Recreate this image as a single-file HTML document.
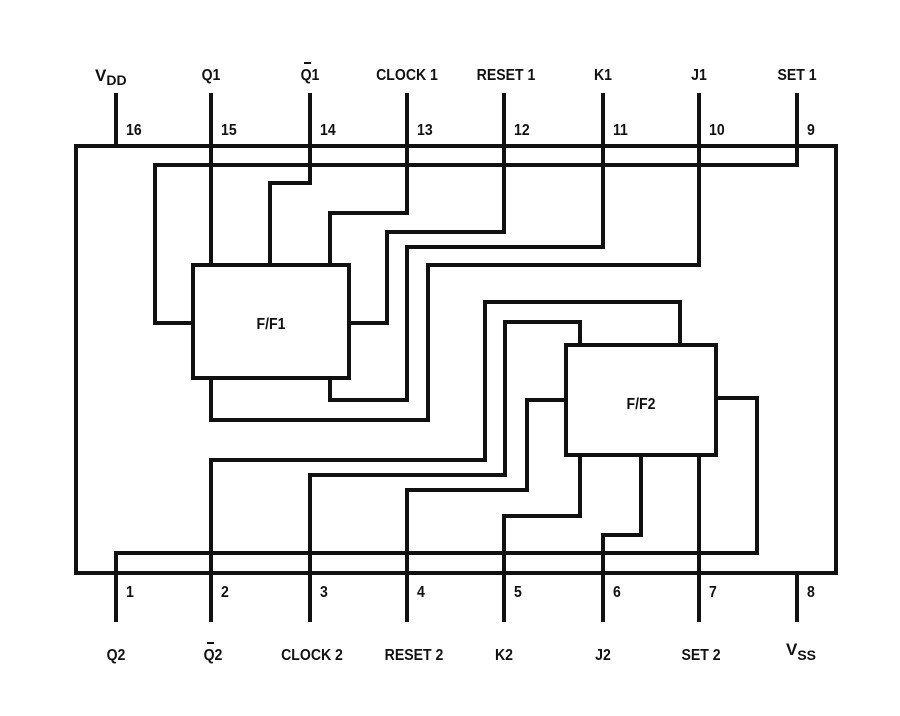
<!DOCTYPE html>
<html><head><style>
body{margin:0;background:#fff;}
svg text{font-family:"Liberation Sans",sans-serif;font-weight:bold;font-size:16px;fill:#111;}
</style></head><body>
<svg width="900" height="711" viewBox="0 0 900 711" xmlns="http://www.w3.org/2000/svg">
<g fill="none" stroke="#111" stroke-width="4" stroke-linecap="square" stroke-linejoin="miter">
<rect x="76" y="146" width="760" height="427"/>
<path d="M116 95V146M211 95V146M310 95V146M407 95V146M504 95V146M603 95V146M699 95V146M797 95V146"/>
<path d="M116 573V620M211 573V620M310 573V620M407 573V620M504 573V620M603 573V620M699 573V620M797 573V620"/>
<rect x="193" y="265" width="156" height="113"/>
<rect x="566" y="345" width="150" height="110"/>
<path d="M797 146V165H155V323H193"/>
<path d="M211 146V265"/>
<path d="M310 146V183H270V265"/>
<path d="M407 146V213H330V265"/>
<path d="M504 146V232H387V323H349"/>
<path d="M603 146V247H407V400H330V378"/>
<path d="M699 146V265H428V420H211V378"/>
<path d="M680 345V302H485V460H211V573"/>
<path d="M580 345V322H505V475H310V573"/>
<path d="M566 400H527V490H407V573"/>
<path d="M580 455V516H504V573"/>
<path d="M641 455V535H603V573"/>
<path d="M699 455V573"/>
<path d="M716 398H757V553H116V573"/>
</g>
<g transform="translate(0,0)">
<text x="95" y="81" style="font-size:17px">V<tspan dy="4" font-size="14">DD</tspan></text>
</g>
<g font-size="16">
<text transform="translate(211,80) scale(0.88,1)" text-anchor="middle">Q1</text>
<text transform="translate(310,80) scale(0.88,1)" text-anchor="middle">Q1</text>
<text transform="translate(407,80) scale(0.88,1)" text-anchor="middle">CLOCK 1</text>
<text transform="translate(506,80) scale(0.88,1)" text-anchor="middle">RESET 1</text>
<text transform="translate(603,80) scale(0.88,1)" text-anchor="middle">K1</text>
<text transform="translate(699,80) scale(0.88,1)" text-anchor="middle">J1</text>
<text transform="translate(797,80) scale(0.88,1)" text-anchor="middle">SET 1</text>
<text transform="translate(116,660) scale(0.88,1)" text-anchor="middle">Q2</text>
<text transform="translate(213,660) scale(0.88,1)" text-anchor="middle">Q2</text>
<text transform="translate(312,660) scale(0.88,1)" text-anchor="middle">CLOCK 2</text>
<text transform="translate(414,660) scale(0.88,1)" text-anchor="middle">RESET 2</text>
<text transform="translate(504,660) scale(0.88,1)" text-anchor="middle">K2</text>
<text transform="translate(603,660) scale(0.88,1)" text-anchor="middle">J2</text>
<text transform="translate(701,660) scale(0.88,1)" text-anchor="middle">SET 2</text>
</g>
<line x1="304" y1="63" x2="311" y2="63" stroke="#111" stroke-width="2"/>
<line x1="207" y1="643" x2="214" y2="643" stroke="#111" stroke-width="2"/>
<g>
<text transform="translate(126,135) scale(0.88,1)">16</text><text transform="translate(221,135) scale(0.88,1)">15</text><text transform="translate(320,135) scale(0.88,1)">14</text><text transform="translate(417,135) scale(0.88,1)">13</text>
<text transform="translate(514,135) scale(0.88,1)">12</text><text transform="translate(613,135) scale(0.88,1)">11</text><text transform="translate(709,135) scale(0.88,1)">10</text><text transform="translate(807,135) scale(0.88,1)">9</text>
<text transform="translate(126,597) scale(0.88,1)">1</text><text transform="translate(221,597) scale(0.88,1)">2</text><text transform="translate(320,597) scale(0.88,1)">3</text><text transform="translate(417,597) scale(0.88,1)">4</text>
<text transform="translate(514,597) scale(0.88,1)">5</text><text transform="translate(613,597) scale(0.88,1)">6</text><text transform="translate(709,597) scale(0.88,1)">7</text><text transform="translate(807,597) scale(0.88,1)">8</text>
</g>
<text x="786" y="655" style="font-size:17px">V<tspan dy="5" font-size="14">SS</tspan></text>
<text transform="translate(271,329) scale(0.88,1)" text-anchor="middle">F/F1</text>
<text transform="translate(641,409) scale(0.88,1)" text-anchor="middle">F/F2</text>
</svg>
</body></html>
